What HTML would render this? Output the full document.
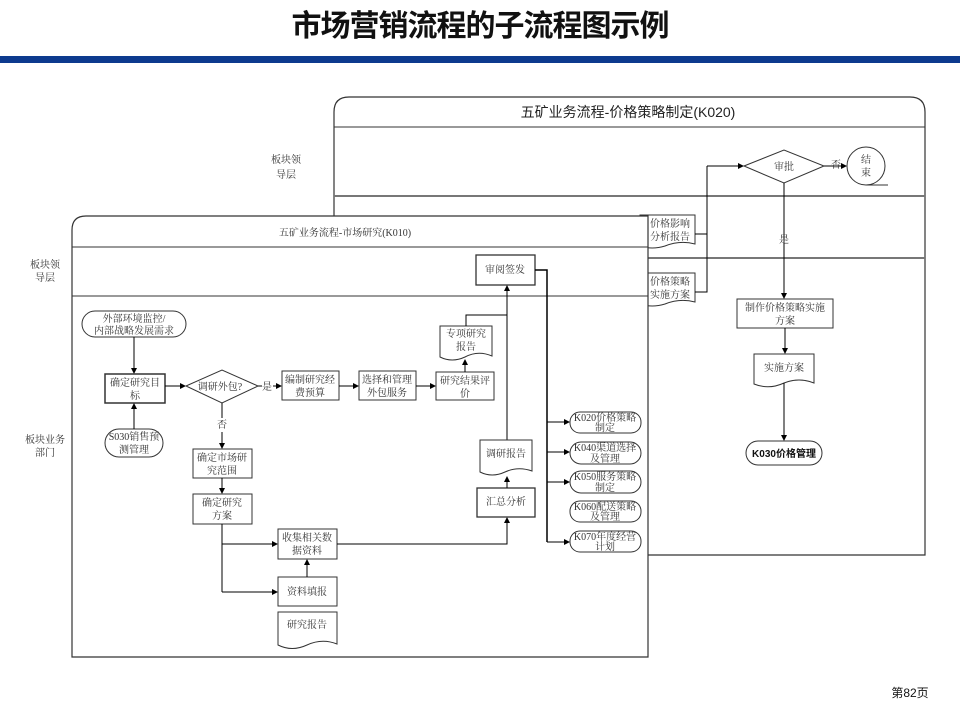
<!DOCTYPE html>
<html><head><meta charset="utf-8"><style>
html,body{margin:0;padding:0;background:#fff;width:960px;height:720px;overflow:hidden}
svg{display:block}
.t{font-family:"Liberation Serif","Noto Serif CJK SC",serif;font-size:10px;fill:#333;text-anchor:middle}
.s{font-family:"Liberation Sans","Noto Sans CJK SC",sans-serif;text-anchor:middle}
</style></head><body>
<svg width="960" height="720" viewBox="0 0 960 720" xmlns="http://www.w3.org/2000/svg">
<defs><marker id="a" markerWidth="6" markerHeight="6" refX="5" refY="3" orient="auto" markerUnits="userSpaceOnUse"><path d="M0,0 L6,3 L0,6z" fill="#000"/></marker></defs>
<text x="480" y="36" class="s" font-size="30" font-weight="bold" fill="#111" style="letter-spacing:-1px">市场营销流程的子流程图示例</text>
<rect x="0" y="56" width="960" height="7" fill="#0d3a8e"/>
<text x="910" y="697" class="s" font-size="12" fill="#111">第82页</text>

<!-- back panel -->
<text x="286" y="163" class="t">板块领</text><text x="286" y="178" class="t">导层</text>
<path d="M349,97 H910 Q925,97 925,112 V555 H334 V112 Q334,97 349,97Z" fill="#fff" stroke="#333" stroke-width="1.2"/>
<line x1="334" y1="127" x2="925" y2="127" stroke="#333"/>
<line x1="334" y1="196" x2="925" y2="196" stroke="#777" stroke-width="2"/>
<line x1="334" y1="258" x2="925" y2="258" stroke="#777" stroke-width="2"/>
<text x="628" y="117" class="s" font-size="14" fill="#222">五矿业务流程-价格策略制定(K020)</text>
<polygon points="744,166 784,150 824,166 784,183" fill="#fff" stroke="#333"/>
<text x="784" y="170" class="t">审批</text>
<line x1="824" y1="166" x2="846" y2="166" stroke="#000" marker-end="url(#a)"/>
<text x="836" y="168" class="t" font-size="6">否</text>
<circle cx="866" cy="166" r="19" fill="#fff" stroke="#333"/>
<line x1="866" y1="185" x2="888" y2="185" stroke="#333"/>
<text x="866" y="163" class="t">结</text><text x="866" y="176" class="t">束</text>
<line x1="784" y1="183" x2="784" y2="298" stroke="#000" marker-end="url(#a)"/>
<text x="784" y="243" class="t" font-size="6">是</text>
<rect x="737" y="299" width="96" height="29" fill="#fff" stroke="#333"/>
<text x="785" y="311" class="t">制作价格策略实施</text><text x="785" y="324" class="t">方案</text>
<line x1="785" y1="328" x2="785" y2="353" stroke="#000" marker-end="url(#a)"/>
<path d="M754,354 H814 V383 Q799,377 784,383 Q769,390 754,384Z" fill="#fff" stroke="#333"/>
<text x="784" y="371" class="t">实施方案</text>
<line x1="784" y1="383" x2="784" y2="440" stroke="#000" marker-end="url(#a)"/>
<rect x="746" y="441" width="76" height="24" rx="12" fill="#fff" stroke="#333"/>
<text x="784" y="457" class="s" font-size="10" font-weight="bold" fill="#111">K030价格管理</text>
<path d="M640,215 H695 V244 Q680,240 665,246 Q652,250 640,246Z" fill="#fff" stroke="#333"/>
<text x="670" y="227" class="t">价格影响</text><text x="670" y="240" class="t">分析报告</text>
<path d="M640,273 H695 V302 Q680,298 665,304 Q652,308 640,304Z" fill="#fff" stroke="#333"/>
<text x="670" y="285" class="t">价格策略</text><text x="670" y="298" class="t">实施方案</text>
<path d="M695,234 H707 M695,292 H707 V166" fill="none" stroke="#000"/>
<line x1="707" y1="166" x2="743" y2="166" stroke="#000" marker-end="url(#a)"/>

<!-- front panel -->
<text x="45" y="268" class="t">板块领</text><text x="45" y="281" class="t">导层</text>
<text x="45" y="443" class="t">板块业务</text><text x="45" y="456" class="t">部门</text>
<path d="M86,216 H648 V657 H72 V230 Q72,216 86,216Z" fill="#fff" stroke="#333" stroke-width="1.2"/>
<line x1="72" y1="247" x2="648" y2="247" stroke="#333"/>
<line x1="72" y1="296" x2="648" y2="296" stroke="#333"/>
<text x="345" y="236" class="t" font-size="14" fill="#222">五矿业务流程-市场研究(K010)</text>

<rect x="82" y="311" width="104" height="26" rx="13" fill="#fff" stroke="#333"/>
<text x="134" y="322" class="t">外部环境监控/</text><text x="134" y="334" class="t">内部战略发展需求</text>
<line x1="134" y1="337" x2="134" y2="373" stroke="#000" marker-end="url(#a)"/>
<rect x="105" y="374" width="60" height="29" fill="#fff" stroke="#333" stroke-width="1.5"/>
<text x="135" y="386" class="t">确定研究目</text><text x="135" y="399" class="t">标</text>
<rect x="105" y="429" width="58" height="28" rx="14" fill="#fff" stroke="#333"/>
<text x="134" y="440" class="t">S030销售预</text><text x="134" y="453" class="t">测管理</text>
<line x1="134" y1="429" x2="134" y2="404" stroke="#000" marker-end="url(#a)"/>
<line x1="165" y1="386" x2="185" y2="386" stroke="#000" marker-end="url(#a)"/>
<polygon points="186,386 222,370 258,386 222,403" fill="#fff" stroke="#333"/>
<text x="220" y="390" class="t">调研外包?</text>
<text x="267" y="390" class="t">是</text>
<line x1="258" y1="386" x2="262" y2="386" stroke="#000"/>
<line x1="273" y1="386" x2="281" y2="386" stroke="#000" marker-end="url(#a)"/>
<rect x="282" y="371" width="57" height="29" fill="#fff" stroke="#333"/>
<text x="310" y="383" class="t">编制研究经</text><text x="310" y="396" class="t">费预算</text>
<line x1="339" y1="386" x2="358" y2="386" stroke="#000" marker-end="url(#a)"/>
<rect x="359" y="371" width="57" height="29" fill="#fff" stroke="#333"/>
<text x="387" y="383" class="t">选择和管理</text><text x="387" y="396" class="t">外包服务</text>
<line x1="416" y1="386" x2="435" y2="386" stroke="#000" marker-end="url(#a)"/>
<rect x="436" y="372" width="58" height="28" fill="#fff" stroke="#333"/>
<text x="465" y="384" class="t">研究结果评</text><text x="465" y="397" class="t">价</text>
<line x1="465" y1="372" x2="465" y2="360" stroke="#000" marker-end="url(#a)"/>
<path d="M440,326 H492 V356 Q478,350 465,357 Q452,363 440,357Z" fill="#fff" stroke="#333"/>
<text x="466" y="337" class="t">专项研究</text><text x="466" y="350" class="t">报告</text>
<path d="M466,326 V315 H507" fill="none" stroke="#000"/>
<rect x="476" y="255" width="59" height="30" fill="#fff" stroke="#333" stroke-width="1.3"/>
<text x="505" y="273" class="t">审阅签发</text>
<line x1="507" y1="440" x2="507" y2="286" stroke="#000" marker-end="url(#a)"/>

<text x="222" y="428" class="t">否</text>
<line x1="222" y1="403" x2="222" y2="418" stroke="#000"/>
<line x1="222" y1="432" x2="222" y2="448" stroke="#000" marker-end="url(#a)"/>
<rect x="193" y="449" width="59" height="29" fill="#fff" stroke="#333"/>
<text x="222" y="461" class="t">确定市场研</text><text x="222" y="474" class="t">究范围</text>
<line x1="222" y1="478" x2="222" y2="493" stroke="#000" marker-end="url(#a)"/>
<rect x="193" y="494" width="59" height="30" fill="#fff" stroke="#333"/>
<text x="222" y="506" class="t">确定研究</text><text x="222" y="519" class="t">方案</text>
<path d="M222,524 V592" fill="none" stroke="#000"/>
<line x1="222" y1="544" x2="277" y2="544" stroke="#000" marker-end="url(#a)"/>
<line x1="222" y1="592" x2="277" y2="592" stroke="#000" marker-end="url(#a)"/>
<rect x="278" y="529" width="59" height="30" fill="#fff" stroke="#333"/>
<text x="307" y="541" class="t">收集相关数</text><text x="307" y="554" class="t">据资料</text>
<rect x="278" y="577" width="59" height="29" fill="#fff" stroke="#333"/>
<text x="307" y="595" class="t">资料填报</text>
<line x1="307" y1="577" x2="307" y2="560" stroke="#000" marker-end="url(#a)"/>
<path d="M278,612 H337 V644 Q322,638 307,645 Q292,652 278,645Z" fill="#fff" stroke="#333"/>
<text x="307" y="628" class="t">研究报告</text>
<path d="M337,544 H507 V518" fill="none" stroke="#000" marker-end="url(#a)"/>
<rect x="477" y="488" width="58" height="29" fill="#fff" stroke="#333" stroke-width="1.3"/>
<text x="506" y="505" class="t">汇总分析</text>
<line x1="507" y1="488" x2="507" y2="477" stroke="#000" marker-end="url(#a)"/>
<path d="M480,440 H532 V471 Q518,466 505,472 Q492,478 480,472Z" fill="#fff" stroke="#333"/>
<text x="506" y="457" class="t">调研报告</text>

<path d="M535,270 H547 V542" fill="none" stroke="#000" stroke-width="1.5"/>
<line x1="547" y1="422" x2="569" y2="422" stroke="#000" marker-end="url(#a)"/>
<line x1="547" y1="452" x2="569" y2="452" stroke="#000" marker-end="url(#a)"/>
<line x1="547" y1="482" x2="569" y2="482" stroke="#000" marker-end="url(#a)"/>
<line x1="547" y1="542" x2="569" y2="542" stroke="#000" marker-end="url(#a)"/>
<g fill="#fff" stroke="#333">
<rect x="570" y="412" width="71" height="21" rx="10"/>
<rect x="570" y="442" width="71" height="22" rx="11"/>
<rect x="570" y="471" width="71" height="22" rx="11"/>
<rect x="570" y="501" width="71" height="21" rx="10"/>
<rect x="570" y="531" width="71" height="21" rx="10"/>
</g>
<g class="t" font-size="9">
<text x="605" y="421" class="t" font-size="9">K020价格策略</text><text x="605" y="431" class="t" font-size="9">制定</text>
<text x="605" y="451" class="t" font-size="9">K040渠道选择</text><text x="605" y="462" class="t" font-size="9">及管理</text>
<text x="605" y="480" class="t" font-size="9">K050服务策略</text><text x="605" y="491" class="t" font-size="9">制定</text>
<text x="605" y="510" class="t" font-size="9">K060配送策略</text><text x="605" y="520" class="t" font-size="9">及管理</text>
<text x="605" y="540" class="t" font-size="9">K070年度经营</text><text x="605" y="550" class="t" font-size="9">计划</text>
</g>
</svg>
</body></html>
